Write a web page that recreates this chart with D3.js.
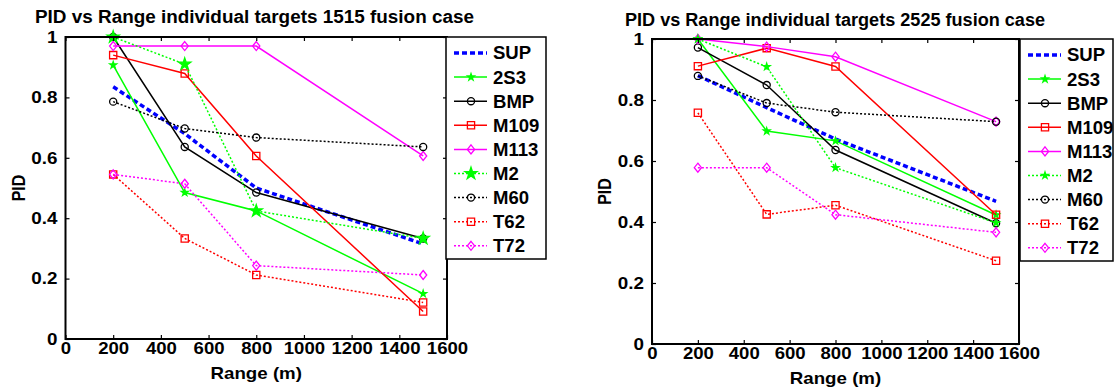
<!DOCTYPE html>
<html>
<head>
<meta charset="utf-8">
<script src="https://cdn.jsdelivr.net/npm/d3@7"></script>
<style>
  body { margin: 0; background: #fff; }
  svg { display: block; }
  text { font-family: "Liberation Sans", Arial, sans-serif; font-weight: bold; fill: #000; }
</style>
</head>
<body>
<svg id="chart" width="1115" height="392"></svg>
<script>
// ranges in metres, same for every target
const ranges = [200, 500, 800, 1500];
const targets = ["SUP", "2S3", "BMP", "M109", "M113", "M2", "M60", "T62", "T72"];
const xTicks = [0, 200, 400, 600, 800, 1000, 1200, 1400, 1600];
const yTicks = [0, 0.2, 0.4, 0.6, 0.8, 1];

// PID per target, 1515 fusion case (same order as targets)
const pid1515 = [
  [0.835, 0.68, 0.50, 0.315],
  [0.907, 0.485, 0.424, 0.15],
  [1.0, 0.636, 0.485, 0.333],
  [0.94, 0.879, 0.606, 0.091],
  [0.97, 0.97, 0.97, 0.606],
  [1.0, 0.91, 0.424, 0.333],
  [0.786, 0.697, 0.667, 0.636],
  [0.545, 0.333, 0.212, 0.121],
  [0.545, 0.514, 0.243, 0.212],
];

// PID per target, 2525 fusion case
const pid2525 = [
  [0.88, 0.775, 0.672, 0.468],
  [1.0, 0.698, 0.666, 0.423],
  [0.972, 0.849, 0.636, 0.396],
  [0.911, 0.97, 0.91, 0.424],
  [1.0, 0.975, 0.942, 0.729],
  [1.0, 0.909, 0.578, 0.397],
  [0.879, 0.79, 0.76, 0.729],
  [0.758, 0.425, 0.455, 0.273],
  [0.578, 0.578, 0.424, 0.366],
];

const styles = [
  { color: "#0000ff", dash: "5,3", width: 3.5, marker: null },
  { color: "#00ff00", dash: null, width: 1.5, marker: "star" },
  { color: "#000000", dash: null, width: 1.5, marker: "circle" },
  { color: "#ff0000", dash: null, width: 1.5, marker: "square" },
  { color: "#ff00ff", dash: null, width: 1.5, marker: "diamond" },
  { color: "#00ff00", dash: "2,2", width: 1.5, marker: "pentagram" },
  { color: "#000000", dash: "2,2", width: 1.5, marker: "circle" },
  { color: "#ff0000", dash: "2,2", width: 1.5, marker: "square" },
  { color: "#ff00ff", dash: "2,2", width: 1.5, marker: "diamond" },
];

const svg = d3.select("#chart");

// text in the reference is wider than plain Arial, stretch it
function stretch(sel, f) {
  sel.each(function () {
    const w = this.getComputedTextLength();
    d3.select(this).attr("textLength", w * f).attr("lengthAdjust", "spacingAndGlyphs");
  });
}

function markerPath(kind, big) {
  if (kind === "circle") return d3.symbol(d3.symbolCircle, 40)();
  if (kind === "square") return d3.symbol(d3.symbolSquare, 52)();
  if (kind === "diamond") return "M0,-4.5L3.6,0L0,4.5L-3.6,0Z";
  if (kind === "star") return d3.symbol(d3.symbolStar, 14)();
  if (kind === "pentagram") return d3.symbol(d3.symbolStar, big ? 45 : 14)();
  return null;
}

function addMarker(g, st, x, y, big) {
  if (!st.marker) return;
  const filled = st.marker === "star" || st.marker === "pentagram";
  g.append("path")
    .attr("d", markerPath(st.marker, big))
    .attr("transform", `translate(${x},${y})`)
    .attr("fill", filled ? st.color : "none")
    .attr("stroke", st.color)
    .attr("stroke-width", 1.3);
}

function drawPanel(cfg) {
  const x = d3.scaleLinear().domain([0, 1600]).range([cfg.left, cfg.right]);
  const y = d3.scaleLinear().domain([0, 1]).range([cfg.bottom, cfg.top]);
  const g = svg.append("g");

  // title
  g.append("text")
    .attr("x", cfg.titleX).attr("y", cfg.titleY)
    .attr("text-anchor", "middle")
    .attr("font-size", 18)
    .attr("textLength", cfg.titleW).attr("lengthAdjust", "spacingAndGlyphs")
    .text(cfg.title);

  // series
  const line = d3.line().x((d, i) => x(ranges[i])).y(d => y(d));
  cfg.data.forEach((vals, k) => {
    const st = styles[k];
    g.append("path")
      .datum(vals)
      .attr("d", line)
      .attr("fill", "none")
      .attr("stroke", st.color)
      .attr("stroke-width", st.width)
      .attr("stroke-dasharray", st.dash);
    vals.forEach((v, i) => addMarker(g, st, x(ranges[i]), y(v), cfg.bigStar));
  });

  // axes with inward ticks on all sides
  const fmtY = d => (d === 0 || d === 1 ? String(d) : d3.format(".1f")(d));
  const ax = g.append("g").attr("transform", `translate(0,${cfg.bottom})`)
    .call(d3.axisBottom(x).tickValues(xTicks).tickSizeInner(-4).tickSizeOuter(0).tickPadding(3).tickFormat(d3.format("d")));
  const axT = g.append("g").attr("transform", `translate(0,${cfg.top})`)
    .call(d3.axisTop(x).tickValues(xTicks).tickSizeInner(-4).tickSizeOuter(0).tickFormat(""));
  const ay = g.append("g").attr("transform", `translate(${cfg.left},0)`)
    .call(d3.axisLeft(y).tickValues(yTicks).tickSizeInner(-4).tickSizeOuter(0).tickPadding(8).tickFormat(fmtY));
  const ayR = g.append("g").attr("transform", `translate(${cfg.right},0)`)
    .call(d3.axisRight(y).tickValues(yTicks).tickSizeInner(-4).tickSizeOuter(0).tickFormat(""));
  [ax, axT, ay, ayR].forEach(a => {
    a.attr("font-size", null).attr("font-family", null);
    a.select(".domain").remove();
    a.selectAll(".tick line").attr("stroke", "#000").attr("stroke-width", 1.2);
  });
  ax.selectAll("text").attr("font-size", 16).attr("dy", "0.75em");
  ay.selectAll("text").attr("font-size", 16.5);
  stretch(ax.selectAll("text"), 1.16);
  stretch(ay.selectAll("text"), 1.14);

  g.append("rect")
    .attr("x", cfg.left).attr("y", cfg.top)
    .attr("width", cfg.right - cfg.left).attr("height", cfg.bottom - cfg.top)
    .attr("fill", "none").attr("stroke", "#000").attr("stroke-width", 2);

  // axis labels
  const xl = g.append("text")
    .attr("x", (cfg.left + cfg.right) / 2).attr("y", cfg.bottom + 40)
    .attr("text-anchor", "middle").attr("font-size", 17)
    .text("Range (m)");
  stretch(xl, 1.1);
  g.append("text")
    .attr("transform", `translate(${cfg.left - 41},${(cfg.top + cfg.bottom) / 2}) scale(1.15,1) rotate(-90)`)
    .attr("text-anchor", "middle").attr("font-size", 16)
    .text("PID");

  // legend
  const L = cfg.legend;
  const lg = g.append("g");
  lg.append("rect")
    .attr("x", L.x).attr("y", L.y).attr("width", L.w).attr("height", L.h)
    .attr("fill", "#fff").attr("stroke", "#000").attr("stroke-width", 1.5);
  targets.forEach((name, k) => {
    const st = styles[k];
    const yy = L.y + 16 + k * 24.1;
    lg.append("line")
      .attr("x1", L.x + 8).attr("x2", L.x + 41).attr("y1", yy).attr("y2", yy)
      .attr("stroke", st.color).attr("stroke-width", st.width)
      .attr("stroke-dasharray", st.dash);
    addMarker(lg, st, L.x + 25, yy, cfg.bigStar);
    const t = lg.append("text")
      .attr("x", L.x + 47).attr("y", yy).attr("dy", "0.36em")
      .attr("font-size", 18).text(name);
    stretch(t, 1.03);
  });
}

drawPanel({
  left: 65.5, right: 447, top: 37, bottom: 339,
  title: "PID vs Range individual targets 1515 fusion case",
  titleX: 254.5, titleY: 22.5, titleW: 439,
  data: pid1515, bigStar: true,
  legend: { x: 446, y: 37, w: 100, h: 222 },
});

drawPanel({
  left: 652, right: 1019, top: 39, bottom: 344,
  title: "PID vs Range individual targets 2525 fusion case",
  titleX: 835, titleY: 25.5, titleW: 420,
  data: pid2525, bigStar: false,
  legend: { x: 1020, y: 39, w: 93, h: 222 },
});
</script>
</body>
</html>
